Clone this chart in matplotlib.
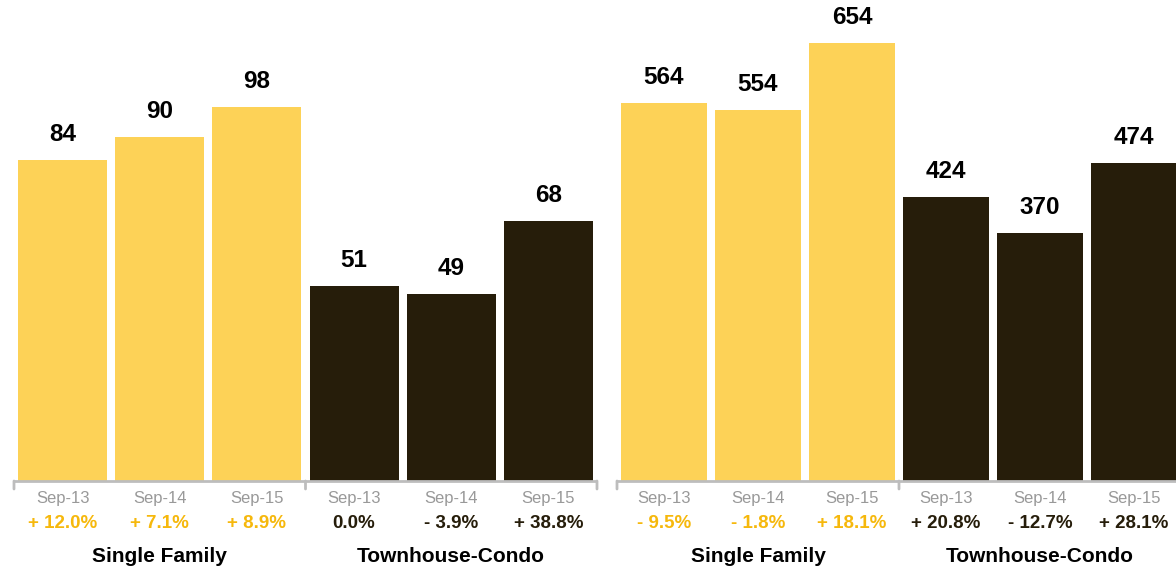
"""Side-by-side bar panels: single family vs townhouse-condo, three Septembers."""

import matplotlib

matplotlib.use("Agg")

import matplotlib.pyplot as plt
import numpy as np

plt.rcParams["font.family"] = ["Liberation Sans", "DejaVu Sans"]

periods = ["Sep-13", "Sep-14", "Sep-15"]
groups = ["Single Family", "Townhouse-Condo"]

left_single = [84, 90, 98]
left_condo = [51, 49, 68]
left_single_change = ["+ 12.0%", "+ 7.1%", "+ 8.9%"]
left_condo_change = ["0.0%", "- 3.9%", "+ 38.8%"]

right_single = [564, 554, 654]
right_condo = [424, 370, 474]
right_single_change = ["- 9.5%", "- 1.8%", "+ 18.1%"]
right_condo_change = ["+ 20.8%", "- 12.7%", "+ 28.1%"]

YELLOW = "#FDD257"
DARK = "#261D0A"
PCT_YELLOW = "#F6B80C"
AXIS_GRAY = "#BDBDBD"

W, H, DPI = 1176, 569, 100
fig = plt.figure(figsize=(W / DPI, H / DPI), dpi=DPI)
fig.patch.set_facecolor("white")

BASE = 481  # baseline in image pixels from top


def panel(left_px, right_px, ymax, single, condo, single_chg, condo_chg, width):
    ax = fig.add_axes([left_px / W, (H - BASE) / H, (right_px - left_px) / W, BASE / H])
    values = single + condo
    colors = [YELLOW] * 3 + [DARK] * 3
    x = np.arange(len(values))
    ax.bar(x, values, width=width, color=colors, linewidth=0)
    ax.set_xlim(-0.5, len(values) - 0.5)
    ax.set_ylim(0, ymax)
    for side in ["top", "right", "left", "bottom"]:
        ax.spines[side].set_visible(False)
    ax.set_xticks([])
    ax.set_yticks([])

    # baseline with end and divider ticks
    ax.plot([-0.5, 5.5], [0, 0], color=AXIS_GRAY, lw=2, clip_on=False,
            solid_capstyle="butt")
    for tx in [-0.5, 2.5, 5.5]:
        ax.annotate("", xy=(tx, 0), xytext=(0, -8), textcoords="offset pixels",
                    arrowprops=dict(arrowstyle="-", color=AXIS_GRAY, lw=2,
                                    shrinkA=0, shrinkB=0))

    for xi, v in zip(x, values):
        ax.annotate(f"{v}", xy=(xi, v), xytext=(0, 14), textcoords="offset pixels",
                    ha="center", va="bottom", fontsize=17.5, fontweight="bold",
                    color="black")

    changes = single_chg + condo_chg
    pct_colors = [PCT_YELLOW] * 3 + [DARK] * 3
    for xi, lab, chg, pc in zip(x, periods * 2, changes, pct_colors):
        ax.annotate(lab, xy=(xi, 0), xytext=(0, -17), textcoords="offset pixels",
                    ha="center", va="center", fontsize=12, color="#999999",
                    annotation_clip=False)
        ax.annotate(chg, xy=(xi, 0), xytext=(0, -42), textcoords="offset pixels",
                    ha="center", va="center", fontsize=13.5, fontweight="bold",
                    color=pc, annotation_clip=False)
    for gx, g in zip([1, 4], groups):
        ax.annotate(g, xy=(gx, 0), xytext=(0, -75), textcoords="offset pixels",
                    ha="center", va="center", fontsize=15, fontweight="bold",
                    color="black", annotation_clip=False)
    return ax


panel(14, 597, 126, left_single, left_condo, left_single_change, left_condo_change, 0.915)
panel(617, 1181, 718, right_single, right_condo, right_single_change, right_condo_change, 0.91)

fig.savefig("out.png", dpi=DPI)
